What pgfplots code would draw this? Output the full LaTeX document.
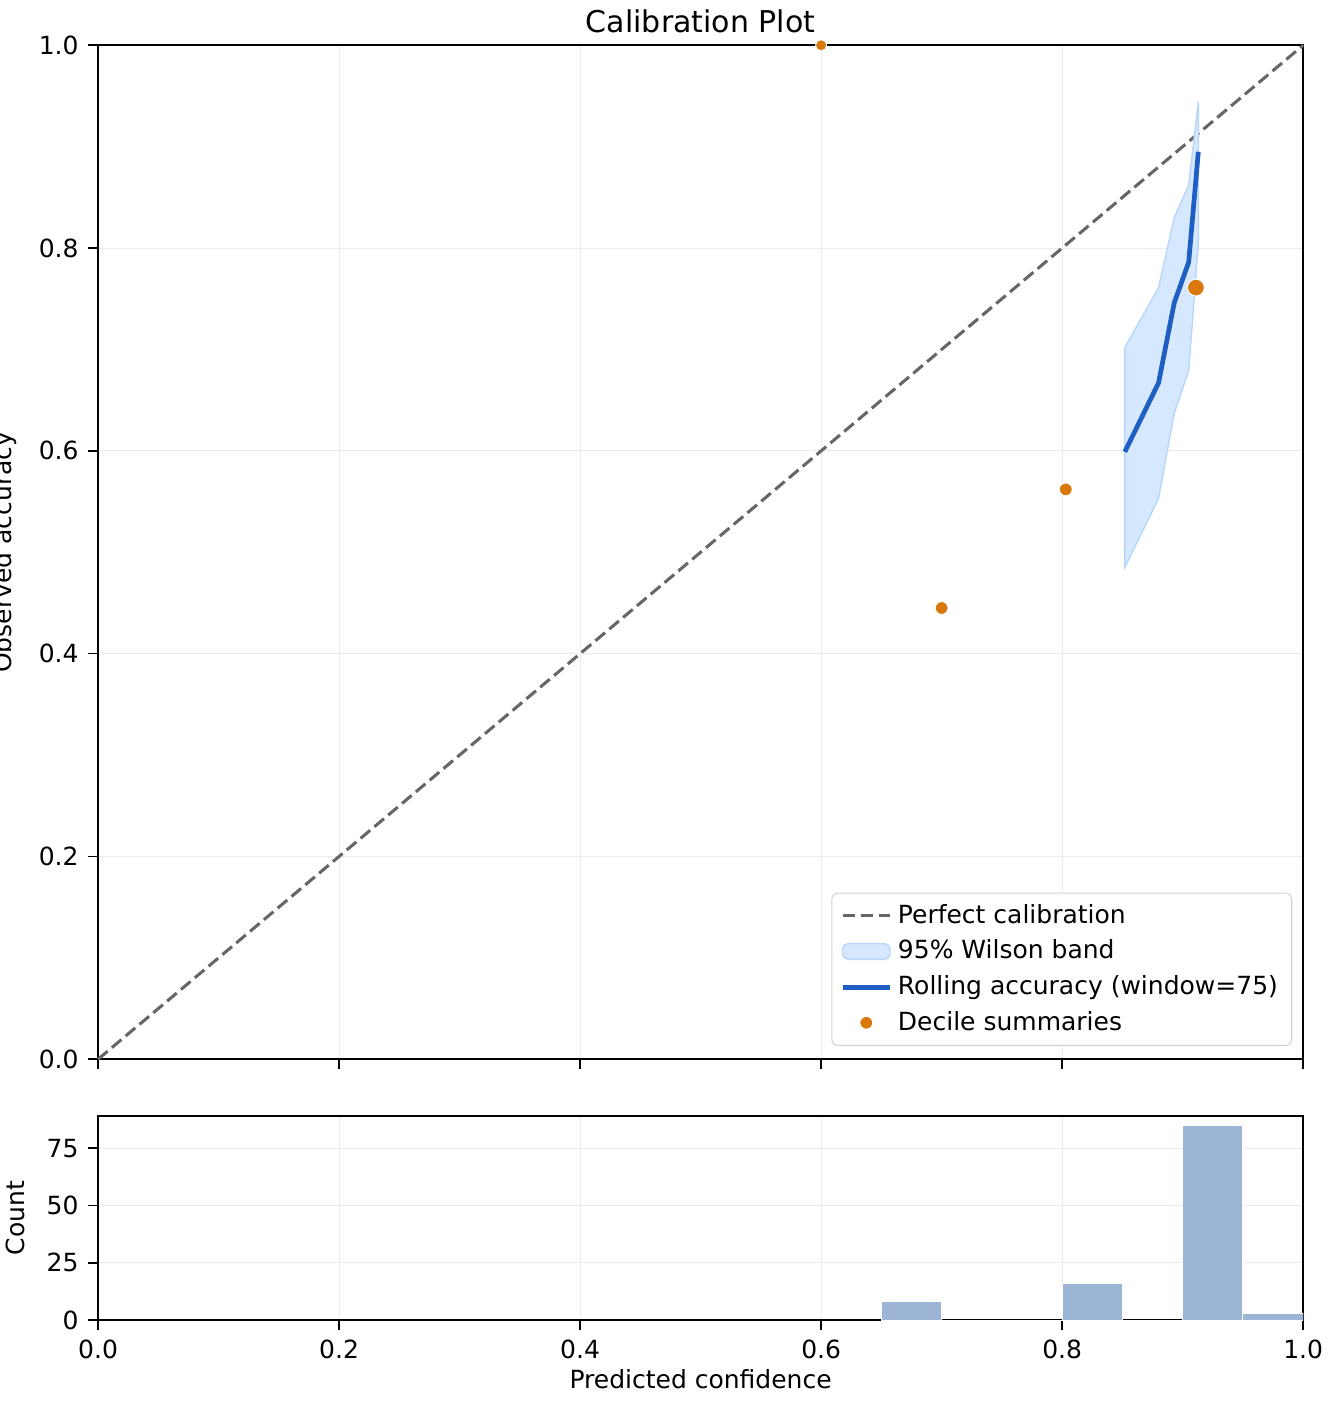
\documentclass[border=0pt]{standalone}
\usepackage{pgfplots}
\pgfplotsset{compat=1.18}
\usepackage{fontspec}
\setmainfont{DejaVu Sans}
\definecolor{gridc}{HTML}{EBEBEB}
\definecolor{bandc}{HTML}{D6E8FD}
\definecolor{bandl}{HTML}{B8D6FB}
\definecolor{linec}{HTML}{1F5FC4}
\definecolor{orangec}{HTML}{D9770B}
\definecolor{barc}{HTML}{9DB5D5}
\begin{document}
\begin{tikzpicture}
\useasboundingbox (-35.3pt,-30.2pt) rectangle (444.2pt,475.2pt);
\pgfplotsset{every axis/.append style={
  scale only axis, width=433.8pt, tick align=outside, xtick pos=bottom, ytick pos=left,
  grid=major, grid style={gridc, line width=0.4pt}, axis line style={line width=0.6pt},
  tick style={black, line width=0.6pt, major tick length=3.5pt},
  ticklabel style={font=\fontsize{9}{11}\selectfont},
  label style={font=\fontsize{9}{11}\selectfont},
  /pgf/number format/assume math mode=true,
  /pgf/number format/fixed, /pgf/number format/fixed zerofill, /pgf/number format/precision=1,
  xmin=0, xmax=1}}
\begin{axis}[at={(0,93.9pt)}, anchor=south west, height=365pt, ymin=0, ymax=1,
  xtick={0,0.2,...,1.0}, ytick={0,0.2,...,1.0}, xticklabels={},
  ylabel={Observed accuracy}, ylabel style={yshift=1pt},
  title={Calibration Plot}, title style={font=\fontsize{10.8}{13}\selectfont, yshift=-5pt},
  clip=false,
  legend cell align=left,
  legend style={at={(0.991,0.013)}, anchor=south east, font=\fontsize{9}{11}\selectfont, draw=gray!35, rounded corners=2pt, inner xsep=3pt, row sep=0.5pt}]
\addplot[gray!80!black, line width=1.1pt, dash pattern=on 4.5pt off 2pt] coordinates {(0,0) (1,1)};
\addlegendentry{Perfect calibration}
\addplot[fill=bandc, draw=bandl, line width=0.5pt, area legend] coordinates {
(0.852,0.485) (0.880,0.553) (0.893,0.637) (0.905,0.679) (0.913,0.805)
(0.913,0.944) (0.905,0.862) (0.893,0.830) (0.880,0.761) (0.852,0.702)} -- cycle;
\addlegendentry{95\% Wilson band}
\addplot[linec, line width=1.7pt] coordinates {(0.852,0.599) (0.880,0.667) (0.893,0.746) (0.905,0.786) (0.913,0.895)};
\addlegendentry{Rolling accuracy (window=75)}
\addplot[only marks, mark=*, mark size=2.3pt, orangec, mark options={draw=white, line width=0.3pt}] coordinates {(0.700,0.445) (0.803,0.562)};
\addlegendentry{Decile summaries}
\addplot[only marks, mark=*, mark size=2.0pt, orangec, mark options={draw=white, line width=0.3pt}, forget plot] coordinates {(0.600,1.0)};
\addplot[only marks, mark=*, mark size=3.0pt, orangec, mark options={draw=white, line width=0.3pt}, forget plot] coordinates {(0.911,0.761)};
\end{axis}
\begin{axis}[at={(0,0)}, anchor=south west, height=73.4pt, ymin=0, ymax=89,
  xtick={0,0.2,...,1.0}, ytick={0,25,50,75},
  yticklabel style={/pgf/number format/precision=0},
  xlabel={Predicted confidence}, ylabel={Count}, ylabel style={yshift=1pt}, xlabel style={yshift=3pt}]
\addplot[ybar interval, fill=barc, draw=white, line width=0.4pt] coordinates {
(0.65,8) (0.70,0) (0.75,0) (0.80,16) (0.85,0) (0.90,85) (0.95,3) (1.0,3)};
\end{axis}
\end{tikzpicture}
\end{document}
